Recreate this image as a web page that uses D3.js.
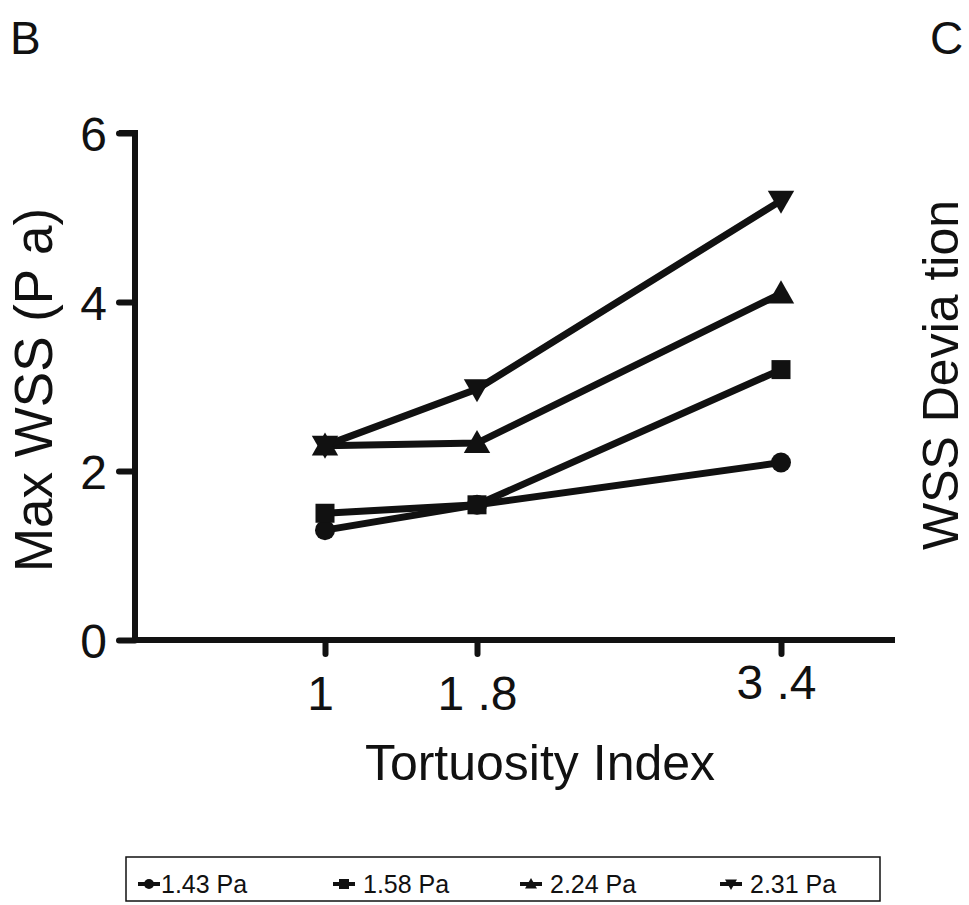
<!DOCTYPE html>
<html><head><meta charset="utf-8">
<script src="https://cdn.jsdelivr.net/npm/d3@7"></script>
<style>body{margin:0;background:#fff}svg{display:block}text{font-family:"Liberation Sans",Arial,sans-serif;fill:#111}</style>
</head><body>
<script>
const xValues = [1, 1.8, 3.4];
const xTickLabels = ["1", "1 .8", "3 .4"];
const yTicks = [0, 2, 4, 6];
const seriesNames = ["1.43 Pa", "1.58 Pa", "2.24 Pa", "2.31 Pa"];
const s143 = [1.3, 1.6, 2.1];
const s158 = [1.5, 1.6, 3.2];
const s224 = [2.3, 2.33, 4.1];
const s231 = [2.3, 2.97, 5.2];
const symbols = ["circle", "square", "up", "down"];

const W = 969, H = 905;
const svg = d3.select("body").append("svg").attr("width", W).attr("height", H);
const x = d3.scaleLinear().domain([0, 4]).range([135, 895]);
const y = d3.scaleLinear().domain([0, 6]).range([640, 133]);

// axes
const yAxis = d3.axisLeft(y).tickValues(yTicks).tickSize(16).tickPadding(12).tickFormat(d3.format("d"));
const gy = svg.append("g").attr("transform", `translate(${x(0)},0)`).call(yAxis);
gy.select(".domain").attr("d", `M-16,${y(6)}H0V${y(0)}`).attr("stroke", "#111").attr("stroke-width", 6).attr("fill", "none");
gy.selectAll(".tick line").attr("stroke", "#111").attr("stroke-width", 6).attr("stroke-linecap", "round");
gy.selectAll(".tick text").style("font-size", "48px").attr("fill", "#111").attr("dy", "0.36em");

const xAxis = d3.axisBottom(x).tickValues(xValues).tickSize(14).tickPadding(22).tickFormat((d, i) => xTickLabels[i]);
const gx = svg.append("g").attr("transform", `translate(0,${y(0)})`).call(xAxis);
gx.select(".domain").attr("d", `M${x(0)},0H${x(4)}`).attr("stroke", "#111").attr("stroke-width", 6);
gx.selectAll(".tick line").attr("stroke", "#111").attr("stroke-width", 6).attr("stroke-linecap", "round");
gx.selectAll(".tick text").style("font-size", "48px").attr("fill", "#111").attr("dy", "0.71em")
  .attr("transform", (d, i) => i === 2 ? "translate(-5,-11)" : (i === 0 ? "translate(-5,0)" : ""));
svg.selectAll(".tick text").attr("font-family", null).style("font-family", "'Liberation Sans', Arial, sans-serif");

// titles
svg.append("text").attr("x", 540).attr("y", 780).attr("text-anchor", "middle").style("font-size", "50px").text("Tortuosity Index");
svg.append("text").attr("transform", "translate(52,390) rotate(-90)").attr("text-anchor", "middle").style("font-size", "53px").text("Max  WSS  (P a)");
svg.append("text").attr("x", 10).attr("y", 54).style("font-size", "46px").text("B");
svg.append("text").attr("x", 930).attr("y", 54).style("font-size", "46px").text("C");
svg.append("text").attr("transform", "translate(958,375) rotate(-90)").attr("text-anchor", "middle").style("font-size", "50px").text("WSS  Devia tion");

// series
const allSeries = [s143, s158, s224, s231];
const line = d3.line().x((d, i) => x(xValues[i])).y(d => y(d));
function drawSym(g, type, cx, cy, s) {
  if (type === "circle") g.append("circle").attr("cx", cx).attr("cy", cy).attr("r", s * 0.5).attr("fill", "#111");
  else if (type === "square") g.append("rect").attr("x", cx - s / 2).attr("y", cy - s / 2).attr("width", s).attr("height", s).attr("fill", "#111");
  else if (type === "up") g.append("path").attr("d", `M${cx},${cy - s * 0.6}L${cx + s * 0.6},${cy + s * 0.45}L${cx - s * 0.6},${cy + s * 0.45}Z`).attr("fill", "#111");
  else g.append("path").attr("d", `M${cx},${cy + s * 0.6}L${cx + s * 0.6},${cy - s * 0.45}L${cx - s * 0.6},${cy - s * 0.45}Z`).attr("fill", "#111");
}
const pg = svg.append("g");
allSeries.forEach((s, k) => {
  pg.append("path").attr("d", line(s)).attr("fill", "none").attr("stroke", "#111").attr("stroke-width", 7);
});
allSeries.forEach((s, k) => {
  s.forEach((v, i) => drawSym(pg, symbols[k], x(xValues[i]), y(v), k === 0 ? 20 : (k === 1 ? 19 : 22)));
});

// legend
const lg = svg.append("g");
lg.append("rect").attr("x", 126).attr("y", 857).attr("width", 754).attr("height", 44).attr("fill", "#fff").attr("stroke", "#111").attr("stroke-width", 1.5);
const legX = [138, 333, 520, 720];
seriesNames.forEach((n, k) => {
  const lx = legX[k], ly = 884;
  lg.append("line").attr("x1", lx).attr("x2", lx + 22).attr("y1", ly).attr("y2", ly).attr("stroke", "#111").attr("stroke-width", 4);
  drawSym(lg, symbols[k], lx + 11, ly, 10);
  lg.append("text").attr("x", lx + (k === 0 ? 23 : 30)).attr("y", ly + 9).style("font-size", "25px").text(n);
});
</script>
</body></html>
